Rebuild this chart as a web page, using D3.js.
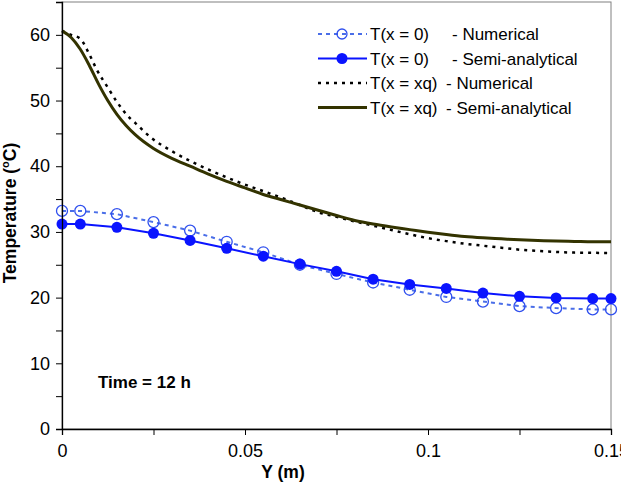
<!DOCTYPE html>
<html><head><meta charset="utf-8">
<script src="https://cdn.jsdelivr.net/npm/d3@7"></script>
<style>body{margin:0;background:#fff}svg{display:block;font-family:"Liberation Sans",Arial,sans-serif}</style>
</head><body>
<svg id="c" width="621" height="489"></svg>
<script>
const xMarkers = [0,0.005,0.015,0.025,0.035,0.045,0.055,0.065,0.075,0.085,0.095,0.105,0.115,0.125,0.135,0.145,0.15];
const t0Numerical = [33.2,33.2,32.7,31.5,30.2,28.5,26.9,25.0,23.6,22.3,21.2,20.1,19.4,18.7,18.4,18.2,18.2];
const t0Semi = [31.2,31.2,30.7,29.8,28.7,27.5,26.3,25.1,24.0,22.8,22.0,21.4,20.7,20.2,19.95,19.85,19.85];
const xSemi = [0,0.0025,0.005,0.0075,0.01,0.0125,0.015,0.0175,0.02,0.025,0.03,0.035,0.04,0.045,0.05,0.055,0.06,0.065,0.07,0.075,0.08,0.085,0.09,0.095,0.1,0.105,0.11,0.115,0.12,0.125,0.13,0.135,0.14,0.145,0.15];
const txqSemi = [60.6,59.6,57.8,55.3,52.5,50.0,47.9,46.2,44.8,42.7,41.2,40.0,38.8,37.7,36.7,35.7,34.9,34.1,33.3,32.5,31.75,31.2,30.75,30.35,29.95,29.6,29.3,29.1,28.95,28.8,28.7,28.6,28.55,28.5,28.5];
const xNum = [0,0.0025,0.005,0.0075,0.0095,0.0125,0.015,0.0186,0.02,0.024,0.03,0.035,0.04,0.045,0.05,0.055,0.06,0.065,0.07,0.075,0.08,0.085,0.09,0.095,0.1,0.105,0.11,0.115,0.12,0.125,0.13,0.135,0.14,0.15];
const txqNumerical = [60.6,60.0,59.4,57.0,54.7,52.0,49.8,47.3,46.6,44.5,42.3,40.8,39.5,38.3,37.2,36.2,35.2,34.1,33.0,32.3,31.6,30.95,30.3,29.65,29.05,28.6,28.2,27.9,27.6,27.3,27.1,26.95,26.85,26.8];
const xTicks = [0,0.05,0.1,0.15];
const xMinorTicks = [0.025,0.075,0.125];
const yTicks = [0,10,20,30,40,50,60];
const yMinorTicks = [5,15,25,35,45,55,65];
const legendLabels = [["T(x = 0)","- Numerical"],["T(x = 0)","- Semi-analytical"],["T(x = xq)","- Numerical"],["T(x = xq)","- Semi-analytical"]];

const svg = d3.select("#c");
const L=62,R=611,T=2,B=429;
const x = d3.scaleLinear().domain([0,0.15]).range([L,R]);
const y = d3.scaleLinear().domain([0,65]).range([B,T]);

svg.append("rect").attr("x",L).attr("y",T).attr("width",R-L).attr("height",B-T)
  .attr("fill","none").attr("stroke","#808080").attr("stroke-width",1);

const line = d3.line().x(d=>x(d[0])).y(d=>y(d[1]));
const lineC = d3.line().x(d=>x(d[0])).y(d=>y(d[1])).curve(d3.curveMonotoneX);

svg.append("path").datum(xNum.map((v,i)=>[v,txqNumerical[i]])).attr("d",lineC)
  .attr("fill","none").attr("stroke","#000").attr("stroke-width",2.5).attr("stroke-dasharray","3,5");
svg.append("path").datum(xSemi.map((v,i)=>[v,txqSemi[i]])).attr("d",lineC)
  .attr("fill","none").attr("stroke","#333300").attr("stroke-width",3);
svg.append("path").datum(xMarkers.map((v,i)=>[v,t0Numerical[i]])).attr("d",line)
  .attr("fill","none").attr("stroke","#4a6ee8").attr("stroke-width",2).attr("stroke-dasharray","4,4");
svg.append("g").selectAll("circle").data(xMarkers.map((v,i)=>[v,t0Numerical[i]])).join("circle")
  .attr("cx",d=>x(d[0])).attr("cy",d=>y(d[1])).attr("r",5.5)
  .attr("fill","none").attr("stroke","#3050ee").attr("stroke-width",1.3);
svg.append("path").datum(xMarkers.map((v,i)=>[v,t0Semi[i]])).attr("d",line)
  .attr("fill","none").attr("stroke","#0a14ff").attr("stroke-width",2);
svg.append("g").selectAll("circle").data(xMarkers.map((v,i)=>[v,t0Semi[i]])).join("circle")
  .attr("cx",d=>x(d[0])).attr("cy",d=>y(d[1])).attr("r",5.5).attr("fill","#0a14ff");

svg.append("g").attr("transform",`translate(0,${B})`)
  .call(d3.axisBottom(x).tickValues(xTicks).tickFormat(d3.format("")).tickSize(6).tickPadding(9));
svg.append("g").attr("transform",`translate(0,${B})`)
  .call(d3.axisBottom(x).tickValues(xMinorTicks).tickFormat("").tickSize(6))
  .select(".domain").remove();
svg.append("g").attr("transform",`translate(${L},0)`)
  .call(d3.axisLeft(y).tickValues(yTicks).tickSize(6).tickPadding(6));
svg.append("g").attr("transform",`translate(${L},0)`)
  .call(d3.axisLeft(y).tickValues(yMinorTicks).tickFormat("").tickSize(6))
  .select(".domain").remove();
svg.selectAll(".domain").attr("stroke","#000").attr("stroke-width",1.3);
svg.selectAll(".tick line").attr("stroke","#000").attr("stroke-width",1);
svg.selectAll(".tick text").attr("font-size",18).attr("fill","#000").attr("font-family","Liberation Sans, Arial, sans-serif");

svg.append("text").attr("x",283).attr("y",478).attr("text-anchor","middle")
  .attr("font-size",17.5).attr("font-weight","bold").text("Y (m)");
const yt = svg.append("text").attr("transform","translate(16,213) rotate(-90)").attr("text-anchor","middle")
  .attr("font-size",17.5).attr("font-weight","bold");
yt.append("tspan").text("Temperature (");
yt.append("tspan").attr("font-size",11).attr("dy",-7).text("o");
yt.append("tspan").attr("dy",7).text("C)");

svg.append("text").attr("x",98).attr("y",388).attr("font-size",17).attr("font-weight","bold").text("Time = 12 h");

const ly=[34,58.5,83,107.5];
const lg = svg.append("g");
const styles=[
 {stroke:"#4a6ee8",dash:"4,4",w:2,marker:"open"},
 {stroke:"#0a14ff",dash:null,w:2,marker:"filled"},
 {stroke:"#000",dash:"3,5",w:2.5,marker:null},
 {stroke:"#333300",dash:null,w:3,marker:null}];
styles.forEach((s,i)=>{
  const yy=ly[i];
  const p=lg.append("line").attr("x1",318).attr("x2",367).attr("y1",yy).attr("y2",yy)
   .attr("stroke",s.stroke).attr("stroke-width",s.w);
  if(s.dash) p.attr("stroke-dasharray",s.dash);
  if(s.marker==="open") lg.append("circle").attr("cx",342).attr("cy",yy).attr("r",5).attr("fill","none").attr("stroke","#3050ee").attr("stroke-width",1.3);
  if(s.marker==="filled") lg.append("circle").attr("cx",342).attr("cy",yy).attr("r",5.5).attr("fill","#0a14ff");
  lg.append("text").attr("x",370).attr("y",yy+6).attr("font-size",17).text(legendLabels[i][0]);
  lg.append("text").attr("x",i<2?452:446).attr("y",yy+6).attr("font-size",17).text(legendLabels[i][1]);
});
</script>
</body></html>
